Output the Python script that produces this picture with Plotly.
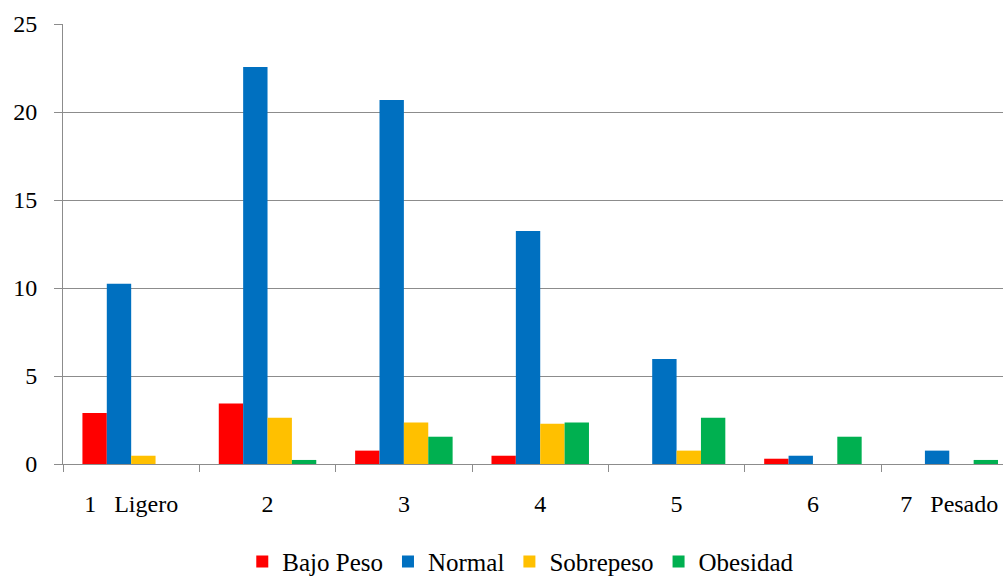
import plotly.graph_objects as go

categories = ["1\u00a0\u00a0\u00a0Ligero", "2", "3", "4", "5", "6", "7\u00a0\u00a0\u00a0Pesado"]
bajo_peso = [2.9, 3.44, 0.76, 0.47, 0, 0.30, 0]
normal = [10.24, 22.56, 20.68, 13.24, 5.97, 0.47, 0.76]
sobrepeso = [0.47, 2.63, 2.36, 2.29, 0.76, 0, 0]
obesidad = [0, 0.23, 1.55, 2.36, 2.63, 1.55, 0.23]

series = [
    ("Bajo Peso", bajo_peso, "#FF0000"),
    ("Normal", normal, "#0070C0"),
    ("Sobrepeso", sobrepeso, "#FFC000"),
    ("Obesidad", obesidad, "#00B050"),
]

FONT = "Liberation Serif"
GRID = "#8C8C8C"

fig = go.Figure()
for name, vals, col in series:
    fig.add_trace(go.Bar(x=categories, y=vals, name=name,
                         marker=dict(color=col, line=dict(width=0))))

fig.update_layout(
    width=1003, height=576,
    margin=dict(l=63, r=0, t=24, b=112, autoexpand=False),
    paper_bgcolor="white", plot_bgcolor="white",
    barmode="group", bargap=0.285, bargroupgap=0,
    font=dict(family=FONT, size=24, color="black"),
    showlegend=True,
    legend=dict(orientation="h", x=0.487, xanchor="center", y=-0.17, yanchor="top",
                font=dict(family=FONT, size=25, color="black"),
                itemwidth=30, traceorder="normal"),
)
fig.update_xaxes(type="category", range=[-0.5, 6.394], tickson="boundaries",
                 ticks="outside", ticklen=7, tickcolor=GRID, tickwidth=1,
                 showline=True, linecolor=GRID, linewidth=1, automargin=False,
                 showgrid=False, ticklabelstandoff=18,
                 tickfont=dict(family=FONT, size=24, color="black"))
fig.update_yaxes(range=[0, 25], dtick=5, tick0=0, automargin=False,
                 ticks="outside", ticklen=8, tickcolor=GRID, tickwidth=1,
                 showline=True, linecolor=GRID, linewidth=1,
                 showgrid=True, gridcolor=GRID, gridwidth=1, zeroline=False,
                 ticklabelstandoff=12,
                 tickfont=dict(family=FONT, size=24, color="black"))

fig.write_html("out.html")
